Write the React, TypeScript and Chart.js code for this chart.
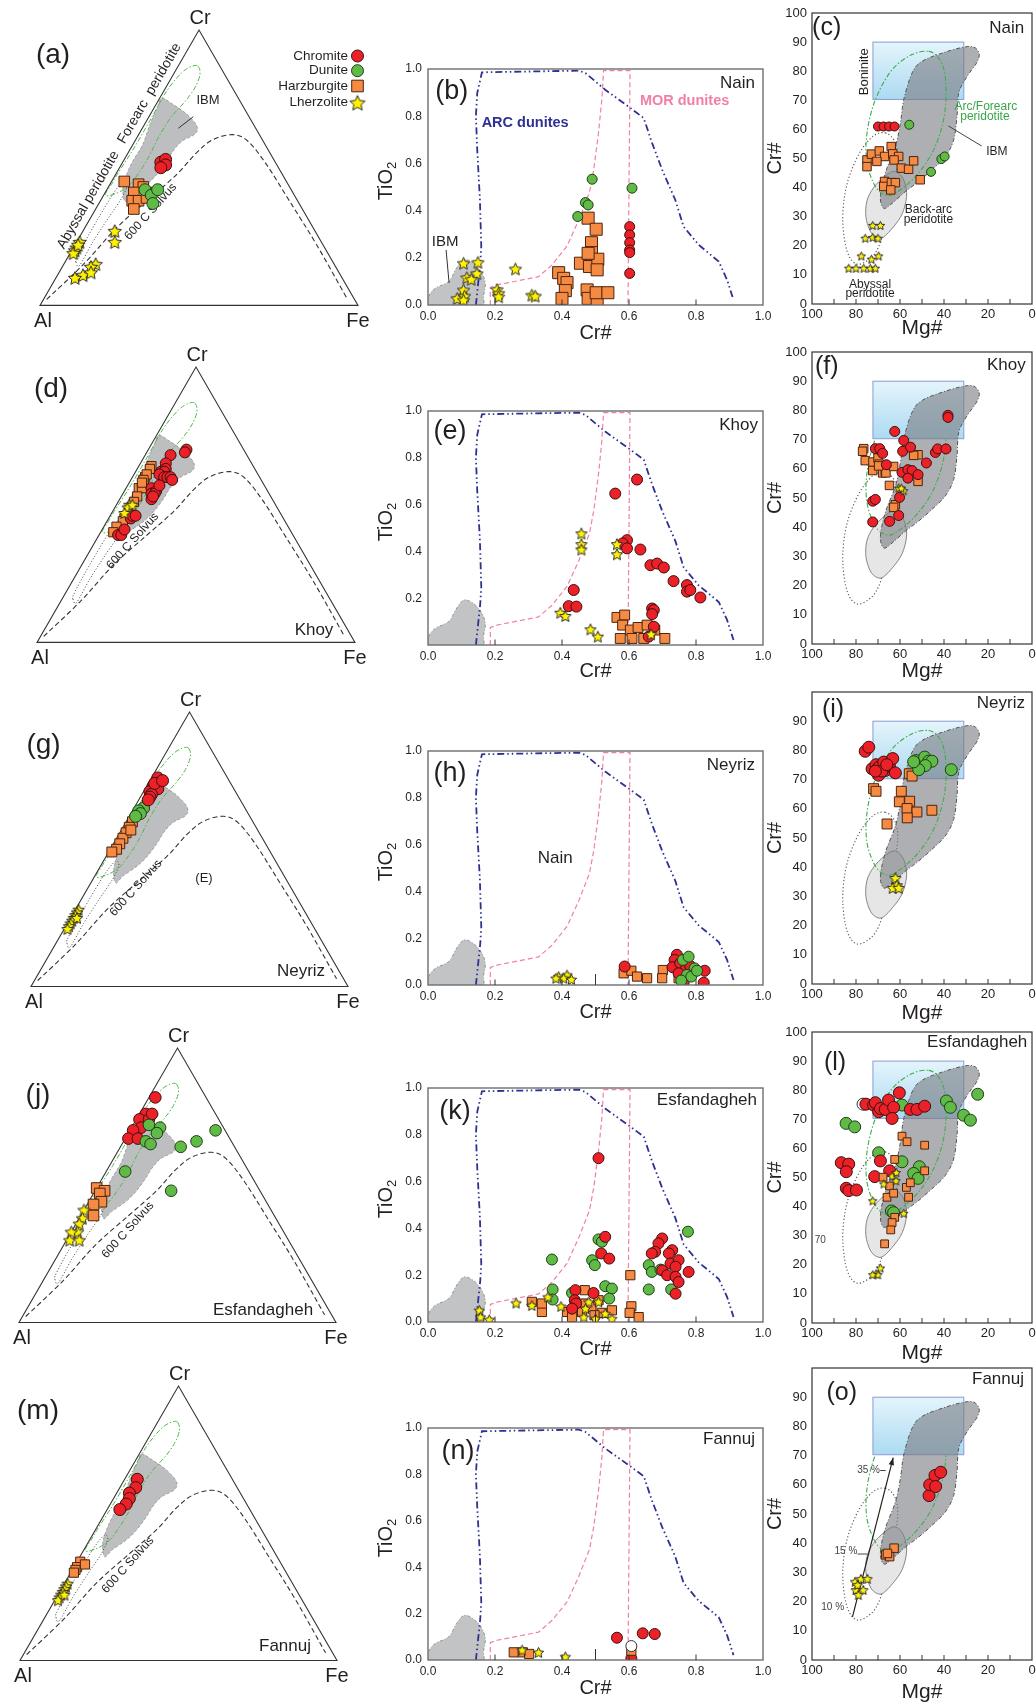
import React, { useEffect, useRef } from 'react';
import { Chart, registerables } from 'chart.js';

Chart.register(...registerables);

const FONT = '"Liberation Sans", Arial, Helvetica, sans-serif';
const INK = '#231f20';
const SQ = Math.sqrt(3) / 2;
type P2 = [number, number];
type T3 = [number, number, number];
type Box = { l: number; t: number; w: number; h: number };

Chart.defaults.font.family = FONT;
Chart.defaults.color = INK;

/* ================= Ternary Cr - Al - Fe3+ data : [Cr, Al, Fe] % ================= */
const nainTernChromite: T3[] = [[52, 36, 12], [53, 34, 13], [51, 35, 14], [50, 37, 13]];
const nainTernDunite: T3[] = [[42, 46, 12], [40, 45, 15], [42, 42, 16], [37, 46, 17]];
const nainTernHarz: T3[] = [[45, 51, 4], [44, 47, 9], [43, 46, 11], [41, 50, 9], [41, 46, 13], [38, 52, 10], [38, 50, 12], [35, 53, 12], [39, 47, 14]];
const nainTernLherz: T3[] = [[27, 63, 10], [23, 65, 12], [23, 76, 1], [21, 78, 1], [20, 79, 1], [19, 80, 1], [22, 77, 1], [15, 75, 10], [14, 77, 9], [11, 81, 8], [10, 84, 6], [12, 78, 10]];

const khoyTernChromite: T3[] = [[68, 24, 8], [65, 27, 8], [62, 30, 8], [63, 28, 9], [62, 29, 9], [61, 31, 8], [60, 30, 10], [56, 36, 8], [54, 37, 9], [55, 35, 10], [54, 36, 10], [52, 38, 10], [53, 37, 10], [57, 33, 10], [60, 29, 11], [60, 28, 12], [59, 28, 13], [70, 18, 12], [69, 19, 12], [45, 48, 7], [46, 47, 7], [46, 46, 8], [39, 55, 6], [39, 54, 7], [41, 52, 7]];
const khoyTernHarz: T3[] = [[64, 32, 4], [63, 33, 4], [60, 36, 4], [59, 37, 4], [56, 40, 4], [61, 35, 4], [59, 37, 4], [56, 39, 5], [53, 42, 5], [51, 44, 5], [45, 50, 5], [44, 51, 5], [58, 38, 4], [42, 54, 4], [40, 56, 4]];
const khoyTernLherz: T3[] = [[50, 46, 4], [49, 47, 4], [50, 45, 5], [47, 49, 4]];

const neyrizTernChromite: T3[] = [[76, 22, 2], [74, 23, 3], [73, 25, 2], [72, 24, 4], [71, 27, 2], [70, 27, 3], [69, 28, 3], [74, 24, 2], [75, 21, 4], [68, 29, 3]];
const neyrizTernDunite: T3[] = [[65, 32, 3], [64, 34, 2], [63, 34, 3], [62, 36, 2]];
const neyrizTernHarz: T3[] = [[60, 38, 2], [58, 40, 2], [56, 42, 2], [54, 44, 2], [52, 46, 2], [50, 48, 2], [49, 50, 1], [57, 40, 3]];
const neyrizTernLherz: T3[] = [[28, 71, 1], [27, 72, 1], [26, 73, 1], [25, 74, 1], [24, 75, 1], [23, 76, 1], [22, 77, 1], [21, 78, 1], [25, 73, 2]];

const esfTernChromite: T3[] = [[82, 16, 2], [76, 22, 2], [74, 25, 1], [74, 22, 4], [71, 26, 3], [70, 29, 1], [67, 32, 1], [67, 29, 4], [76, 20, 4]];
const esfTernDunite: T3[] = [[71, 20, 9], [69, 22, 9], [72, 23, 5], [66, 27, 7], [65, 26, 9], [64, 17, 19], [66, 11, 23], [70, 3, 27], [55, 39, 6], [48, 28, 24]];
const esfTernHarz: T3[] = [[49, 51, 0], [48, 49, 3], [47, 51, 2], [44, 52, 4], [39, 57, 4], [43, 55, 2]];
const esfTernLherz: T3[] = [[41, 59, 0], [38, 61, 1], [36, 63, 1], [33, 65, 2], [33, 67, 0], [30, 69, 1], [30, 66, 4]];

const fannujTernChromite: T3[] = [[66, 30, 4], [63, 32, 5], [61, 35, 4], [59, 36, 5], [57, 38, 5], [55, 41, 4]];
const fannujTernHarz: T3[] = [[36, 63, 1], [34, 65, 1], [33, 66, 1], [32, 67, 1], [35, 62, 3]];
const fannujTernLherz: T3[] = [[28, 71, 1], [27, 72, 1], [26, 73, 1], [25, 74, 1], [24, 75, 1], [23, 76, 1], [22, 77, 1], [24, 74, 2]];

/* ternary reference fields [Cr, Al, Fe] */
const ternIBMField: T3[] = [[75.2, 24.1, 0.7], [73.0, 21.7, 5.3], [69.4, 19.1, 11.5], [65.1, 18.1, 16.8], [62.2, 20.2, 17.6], [59.6, 25.6, 14.8], [56.0, 30.2, 13.8], [52.4, 34.0, 13.7], [47.6, 39.4, 13.0], [44.0, 44.4, 11.6], [40.4, 50.6, 9.0], [37.8, 54.4, 7.8], [42.6, 52.6, 4.8], [47.6, 48.9, 3.5], [52.4, 44.6, 3.0], [58.5, 38.4, 3.1], [65.8, 32.5, 1.7], [71.6, 27.4, 1.0]];
const ternForearc: T3[] = [[86.8, 6.9, 6.3], [83.8, 7.8, 8.4], [79.0, 11.8, 9.2], [74.1, 17.3, 8.6], [68.7, 24.2, 7.1], [62.0, 31.3, 6.7], [54.8, 38.0, 7.2], [48.7, 44.2, 7.1], [43.3, 50.6, 6.1], [40.5, 56.2, 3.3], [40.0, 59.5, 0.5], [44.0, 55.5, 0.5], [47.5, 52.0, 0.5], [57.2, 41.8, 1.0], [68.1, 30.9, 1.0], [77.8, 21.3, 0.9], [84.4, 13.3, 2.3], [86.8, 8.9, 4.3]];
const ternAbyssal: T3[] = [[15.7, 80.8, 3.5], [14.5, 80.3, 5.2], [23.0, 71.9, 5.1], [31.5, 62.9, 5.6], [38.8, 55.0, 6.2], [44.2, 50.2, 5.6], [45.5, 50.7, 3.8], [41.2, 56.0, 2.8], [31.5, 66.0, 2.5], [21.8, 75.6, 2.6], [16.9, 80.2, 2.9]];
const ternSolvus: T3[] = [[2.2, 96.8, 1.0], [14.9, 78.9, 6.2], [28.2, 61.8, 10.0], [39.0, 45.9, 15.1], [47.5, 33.3, 19.2], [55.4, 23.1, 21.5], [60.2, 15.5, 24.3], [62.0, 8.3, 29.7], [59.6, 4.8, 35.6], [51.2, 3.2, 45.6], [37.8, 2.6, 59.6], [22.1, 2.0, 75.9], [2.8, 2.2, 95.0]];

/* ================= TiO2 (wt%) vs Cr# data : [Cr#, TiO2] ================= */
const tiXTicks = [0, 0.2, 0.4, 0.6, 0.8, 1.0];
const nainTiLherz: P2[] = [[0.106, 0.177], [0.149, 0.181], [0.146, 0.134], [0.116, 0.116], [0.129, 0.109], [0.106, 0.064], [0.087, 0.028], [0.109, 0.038], [0.106, 0.021], [0.261, 0.153], [0.206, 0.066], [0.211, 0.05], [0.211, 0.035], [0.31, 0.042], [0.32, 0.038]];
const nainTiDunite: P2[] = [[0.49, 0.533], [0.47, 0.434], [0.478, 0.424], [0.447, 0.375], [0.609, 0.495]];
const nainTiChromite: P2[] = [[0.602, 0.332], [0.602, 0.297], [0.602, 0.264], [0.602, 0.233], [0.602, 0.222], [0.602, 0.134]];
const nainTiHarz: P2[] = [[0.478, 0.368], [0.502, 0.321], [0.488, 0.264], [0.488, 0.222], [0.455, 0.177], [0.482, 0.163], [0.507, 0.194], [0.505, 0.149], [0.39, 0.137], [0.405, 0.113], [0.415, 0.095], [0.41, 0.061], [0.4, 0.028], [0.475, 0.064], [0.478, 0.028], [0.505, 0.018], [0.502, 0.052], [0.537, 0.052], [0.478, 0.219]];

const khoyTiChromite: P2[] = [[0.624, 0.707], [0.559, 0.647], [0.594, 0.448], [0.581, 0.434], [0.594, 0.413], [0.634, 0.408], [0.664, 0.341], [0.684, 0.348], [0.704, 0.331], [0.733, 0.273], [0.773, 0.256], [0.773, 0.228], [0.783, 0.235], [0.813, 0.203], [0.435, 0.235], [0.42, 0.166], [0.443, 0.164], [0.669, 0.156], [0.674, 0.149], [0.669, 0.132], [0.674, 0.078], [0.659, 0.036]];
const khoyTiLherz: P2[] = [[0.458, 0.477], [0.458, 0.431], [0.458, 0.408], [0.564, 0.431], [0.564, 0.388], [0.395, 0.138], [0.41, 0.124], [0.485, 0.067], [0.507, 0.036], [0.666, 0.046]];
const khoyTiHarz: P2[] = [[0.564, 0.118], [0.587, 0.128], [0.581, 0.085], [0.604, 0.064], [0.574, 0.028], [0.627, 0.075], [0.654, 0.085], [0.644, 0.028], [0.677, 0.064], [0.707, 0.028], [0.609, 0.028]];

const neyrizTiLherz: P2[] = [[0.39, 0.036], [0.415, 0.043], [0.405, 0.029], [0.428, 0.024], [0.382, 0.029]];
const neyrizTiHarz: P2[] = [[0.584, 0.05], [0.607, 0.061], [0.624, 0.036], [0.654, 0.029], [0.701, 0.064], [0.699, 0.029], [0.748, 0.029]];
const neyrizTiChromite: P2[] = [[0.587, 0.079], [0.743, 0.129], [0.736, 0.107], [0.73, 0.076], [0.753, 0.093], [0.768, 0.064], [0.783, 0.081], [0.826, 0.061], [0.763, 0.01], [0.823, 0.01], [0.748, 0.05]];
const neyrizTiDunite: P2[] = [[0.761, 0.107], [0.778, 0.121], [0.796, 0.071], [0.773, 0.043], [0.786, 0.036], [0.803, 0.061], [0.756, 0.019]];

const esfTiChromite: P2[] = [[0.509, 0.7], [0.529, 0.364], [0.517, 0.293], [0.541, 0.271], [0.44, 0.136], [0.438, 0.093], [0.494, 0.124], [0.442, 0.079], [0.43, 0.057], [0.699, 0.357], [0.688, 0.336], [0.678, 0.3], [0.668, 0.293], [0.729, 0.307], [0.719, 0.293], [0.699, 0.221], [0.724, 0.25], [0.748, 0.264], [0.739, 0.236], [0.778, 0.214], [0.714, 0.2], [0.739, 0.193], [0.748, 0.171], [0.739, 0.121]];
const esfTiDunite: P2[] = [[0.37, 0.267], [0.372, 0.139], [0.372, 0.096], [0.43, 0.124], [0.49, 0.264], [0.498, 0.243], [0.509, 0.353], [0.519, 0.343], [0.529, 0.153], [0.549, 0.143], [0.541, 0.1], [0.659, 0.243], [0.668, 0.214], [0.659, 0.139], [0.726, 0.139], [0.776, 0.386], [0.694, 0.224]];
const esfTiHarz: P2[] = [[0.604, 0.2], [0.31, 0.086], [0.34, 0.043], [0.34, 0.079], [0.415, 0.043], [0.43, 0.021], [0.468, 0.136], [0.47, 0.079], [0.488, 0.064], [0.509, 0.093], [0.519, 0.039], [0.549, 0.05], [0.607, 0.067], [0.602, 0.039], [0.629, 0.021], [0.46, 0.043], [0.497, 0.029]];
const esfTiLherz: P2[] = [[0.153, 0.05], [0.157, 0.021], [0.183, 0.01], [0.263, 0.081], [0.31, 0.071], [0.358, 0.107], [0.397, 0.067], [0.465, 0.021], [0.48, 0.086], [0.509, 0.086], [0.529, 0.036], [0.549, 0.014], [0.47, 0.057], [0.5, 0.014]];

const fannujTiHarz: P2[] = [[0.256, 0.033], [0.283, 0.033], [0.302, 0.026], [0.607, 0.04]];
const fannujTiLherz: P2[] = [[0.281, 0.043], [0.33, 0.033], [0.41, 0.014]];
const fannujTiChromite: P2[] = [[0.564, 0.096], [0.641, 0.115], [0.677, 0.112], [0.607, 0.007]];
const fannujTiOpen: P2[] = [[0.607, 0.06]];

/* TiO2 reference fields */
const arcDunites: P2[] = [[0.143, 0], [0.156, 0.177], [0.159, 0.248], [0.155, 0.446], [0.147, 0.658], [0.143, 0.8], [0.147, 0.898], [0.161, 0.986], [0.45, 0.993], [0.47, 0.983], [0.529, 0.912], [0.604, 0.835], [0.644, 0.792], [0.669, 0.686], [0.699, 0.573], [0.738, 0.446], [0.763, 0.332], [0.808, 0.255], [0.868, 0.184], [0.893, 0.106], [0.912, 0.021]];
const morDunites: P2[] = [[0.186, 0], [0.186, 0.075], [0.206, 0.085], [0.33, 0.12], [0.37, 0.17], [0.415, 0.25], [0.45, 0.36], [0.482, 0.477], [0.495, 0.576], [0.509, 0.73], [0.519, 0.872], [0.524, 0.993], [0.603, 0.993], [0.597, 0]];
const ibmFieldTi: P2[] = [[0, -0.02], [0.002, 0.036], [0.022, 0.071], [0.062, 0.1], [0.082, 0.149], [0.1, 0.185], [0.116, 0.192], [0.141, 0.171], [0.161, 0.135], [0.171, 0.092], [0.166, 0.043], [0.151, -0.02]];

/* ================= Cr# vs Mg# data : [Mg#, Cr#] ================= */
const nainMgChromite: P2[] = [[70, 61], [67.5, 61], [65, 61], [62.5, 61]];
const nainMgDunite: P2[] = [[55.8, 61.6], [45.9, 45.4], [41.2, 49.8], [39.7, 50.7]];
const nainMgHarz: P2[] = [[75, 49.5], [75, 47.2], [73, 51.5], [69.4, 52.6], [67, 50.7], [70.5, 49], [64, 54.1], [63.3, 51.6], [60.6, 50.7], [62.7, 49.5], [59.4, 46.7], [56.1, 46.3], [53.8, 49.2], [50.8, 42.7], [67, 42.1], [67.4, 40.4], [63.9, 41.7], [62.1, 41.7], [64.2, 39.2]];
const nainMgLherz: P2[] = [[72.4, 27], [68.9, 27], [75.8, 22.6], [72.4, 22.9], [70, 22.6], [77.6, 16.5], [69.7, 16.5], [73, 15.4], [83.3, 12.3], [80, 12.3], [76.5, 12.3], [73.5, 12.3], [71.2, 12.3]];

const khoyMgChromite: P2[] = [[62.4, 72.8], [58.3, 69.7], [58.8, 66], [55.2, 67.4], [71.2, 66.9], [69.2, 66.9], [67.9, 65.3], [66.2, 61.4], [59.1, 58.8], [56.4, 59.7], [54.5, 59.4], [56.4, 56.8], [51.8, 58], [48, 62], [43.9, 65.6], [42.9, 66.8], [39.1, 66.8], [38.2, 78.3], [38.2, 77.6], [72.4, 48.9], [71.2, 49.5], [60.2, 50.2], [72.4, 41.8], [64.7, 42], [60.6, 44]];
const khoyMgHarz: P2[] = [[76.5, 66.9], [77, 66], [75.8, 62.8], [72.3, 62.3], [72.4, 59.4], [70, 63.7], [69.4, 61.6], [67.9, 58.6], [66.7, 59.1], [66.4, 58.6], [62.9, 60.8], [51.8, 64.8], [53.8, 64.6], [51.8, 55.7], [64.8, 54.3], [62.1, 47.7], [62.9, 46.8], [69.7, 61]];
const khoyMgLherz: P2[] = [[60.6, 53.4], [58.3, 52.5], [59.4, 53.4]];

const neyrizMgChromite: P2[] = [[75.8, 79.7], [74.2, 81.1], [72.7, 73.7], [70.9, 75.1], [69.7, 71.5], [69.7, 74.2], [67.4, 76], [66.7, 73.1], [64.8, 74.6], [63.3, 77.2], [62.1, 72.3], [68.2, 72.9], [71.2, 72.9], [66, 75.1]];
const neyrizMgDunite: P2[] = [[52.7, 76.5], [50.8, 75.1], [48.8, 77.7], [47, 76.3], [45.5, 76.3], [48.5, 74.8], [51.5, 73.4], [53.8, 76.1], [36.7, 73.4]];
const neyrizMgHarz: P2[] = [[55.8, 72], [54.5, 71.2], [72, 66.9], [70.9, 66], [59.4, 66], [60.3, 62.4], [55.6, 62.6], [56.8, 60.1], [52.3, 58.9], [45.5, 59.5], [56.7, 56.9], [65.9, 54.8]];
const neyrizMgLherz: P2[] = [[62.1, 36.3], [61.4, 33.8], [63.3, 32.9], [60.6, 32.9]];

const esfMgChromite: P2[] = [[75.5, 75.2], [72, 74.9], [71.2, 75.7], [69.7, 72.6], [68.9, 73.7], [66.7, 73.4], [65.2, 76.6], [62.9, 74.1], [63.6, 70.3], [60.3, 79.1], [55.3, 73.4], [52.3, 73.4], [48.8, 74.5], [86.7, 55.1], [83.3, 54.6], [84.4, 52], [84.4, 46.3], [83.3, 45.5], [79.8, 45.7], [71.5, 50.3], [68.9, 55.7], [64.7, 52.3]];
const esfMgDunite: P2[] = [[84.5, 68.6], [80.6, 67.4], [69.7, 58.5], [59.1, 55.4], [51.2, 53.7], [53.8, 51.4], [51.8, 49.7], [59.1, 74.9], [38.9, 76.3], [37.1, 74.1], [31.1, 71.4], [28, 69.7], [24.7, 78.6], [63.9, 38.5], [62.9, 37.9]];
const esfMgHarz: P2[] = [[59.1, 64.2], [56.8, 62.3], [48.8, 61.1], [62.4, 56.2], [48.8, 52.3], [67.7, 50.1], [64.8, 47.1], [65.9, 43.2], [62.9, 44.6], [57.1, 46.6], [55.3, 48.2], [56.1, 43.2], [62.4, 36.3], [63.6, 34.5], [64.2, 32], [67, 27.2]];
const esfMgLherz: P2[] = [[72.4, 42], [67.4, 47.8], [63.6, 50.5], [61.7, 51.7], [61.8, 48.9], [58.3, 37.7], [68.9, 18.9], [70.9, 16.9], [70, 16.6], [72.4, 16.6]];
const esfMgOpen: P2[] = [[76.8, 75.2]];

const fannujMgChromite: P2[] = [[46.8, 56.3], [46.5, 60], [44.1, 63.2], [41.5, 64.3], [43.8, 59.4]];
const fannujMgHarz: P2[] = [[66.5, 36], [62.7, 38.3], [64.7, 35.4], [65.7, 36.5]];
const fannujMgLherz: P2[] = [[80.4, 26.8], [77.8, 27.8], [74.8, 27.8], [80.1, 24], [76.7, 24], [78.9, 22.3], [79.3, 25.7]];

/* Cr#-Mg# reference fields */
const boniniteBox = { mgHigh: 72.3, mgLow: 31, crLow: 70.3, crHigh: 90 };
const ibmFieldMg: P2[] = [[68.9, 36.9], [66.7, 45.0], [62.1, 54.1], [59.8, 62.2], [58.3, 70.2], [54.5, 79.4], [50.0, 83.4], [40.9, 86.2], [31.5, 88.2], [26.5, 88.3], [24.0, 86.0], [25.2, 82.8], [29.5, 78.2], [33.3, 72.5], [34.1, 64.4], [35.6, 56.4], [39.4, 50.7], [45.5, 46.1], [51.5, 42.1], [57.6, 38.6], [63.6, 34.6], [67.4, 32.9]];
const forearcFieldMg: P2[] = [[47.0, 86.8], [42.4, 84.5], [39.7, 79.4], [39.1, 70.2], [40.9, 61.0], [45.5, 51.8], [53.0, 43.8], [62.1, 38.1], [66.7, 37.5], [71.2, 40.4], [75.0, 48.4], [75.0, 58.7], [71.2, 70.2], [63.6, 80.5], [54.5, 85.7]];
const abyssalFieldMg: P2[] = [[66.7, 58.8], [62.5, 56], [61, 50], [63, 40], [66, 30], [69, 21], [73, 16], [79.5, 13.7], [84, 18], [86, 28], [85, 38], [82, 46], [77.5, 53], [72, 57.8]];
const backArcFieldMg: P2[] = [[60.6, 45], [58, 42], [57, 37], [59, 31], [63, 26.5], [67.5, 23], [70.5, 22.8], [73.5, 25], [75.5, 30], [75, 35.5], [72, 40], [67.5, 43.5], [63.5, 45.5]];
const meltArrow = { from: [81.6, 14.8] as P2, to: [63.1, 69.3] as P2 };

/* ================= styling ================= */
const STYLE: Record<string, { fill: string; line: string }> = {
  chromite: { fill: '#ec2027', line: '#3a1010' },
  dunite: { fill: '#5fba46', line: '#1f3d17' },
  harz: { fill: '#f58a42', line: '#4a2410' },
  lherz: { fill: '#fff200', line: '#2a2a2a' },
  open: { fill: '#ffffff', line: '#333333' },
};
type Kind = 'chromite' | 'dunite' | 'harz' | 'lherz' | 'open';
type Sizes = { c: number; s: number; t: number };

const starCache: Record<string, HTMLCanvasElement> = {};
function starImage(size: number): HTMLCanvasElement {
  const key = String(size);
  if (starCache[key]) return starCache[key];
  const c = document.createElement('canvas');
  const dim = Math.ceil(size + 4);
  c.width = dim;
  c.height = dim;
  const g = c.getContext('2d') as CanvasRenderingContext2D;
  const cx = dim / 2, cy = dim / 2 + size * 0.05;
  const R = size / 2, r = R * 0.47;
  g.beginPath();
  for (let i = 0; i < 10; i++) {
    const a = -Math.PI / 2 + (i * Math.PI) / 5;
    const rad = i % 2 === 0 ? R : r;
    const x = cx + rad * Math.cos(a), y = cy + rad * Math.sin(a);
    if (i === 0) g.moveTo(x, y); else g.lineTo(x, y);
  }
  g.closePath();
  g.fillStyle = '#fff200';
  g.fill();
  g.lineWidth = 1;
  g.strokeStyle = '#2a2a2a';
  g.stroke();
  starCache[key] = c;
  return c;
}

function makeDatasets(series: { kind: Kind; pts: P2[] }[], sz: Sizes) {
  return series.map((s) => {
    const r = s.kind === 'harz' ? sz.s : sz.c;
    return {
      label: s.kind,
      data: s.pts.map(([x, y]) => ({ x, y })),
      pointStyle: s.kind === 'harz' ? 'rect' : s.kind === 'lherz' ? starImage(sz.t) : 'circle',
      pointRadius: r,
      pointHoverRadius: r,
      backgroundColor: STYLE[s.kind].fill,
      borderColor: STYLE[s.kind].line,
      borderWidth: 1,
      showLine: false,
    };
  });
}

/* ================= drawing helpers ================= */
function smoothPath(ctx: CanvasRenderingContext2D, pts: P2[], closed: boolean) {
  const n = pts.length;
  const g = (i: number) => (closed ? pts[((i % n) + n) % n] : pts[Math.max(0, Math.min(n - 1, i))]);
  ctx.beginPath();
  ctx.moveTo(pts[0][0], pts[0][1]);
  const segs = closed ? n : n - 1;
  for (let i = 0; i < segs; i++) {
    const p0 = g(i - 1), p1 = g(i), p2 = g(i + 1), p3 = g(i + 2);
    ctx.bezierCurveTo(
      p1[0] + (p2[0] - p0[0]) / 6, p1[1] + (p2[1] - p0[1]) / 6,
      p2[0] - (p3[0] - p1[0]) / 6, p2[1] - (p3[1] - p1[1]) / 6,
      p2[0], p2[1]
    );
  }
  if (closed) ctx.closePath();
}
function polyPath(ctx: CanvasRenderingContext2D, pts: P2[]) {
  ctx.beginPath();
  pts.forEach((p, i) => (i ? ctx.lineTo(p[0], p[1]) : ctx.moveTo(p[0], p[1])));
}
function txt(ctx: CanvasRenderingContext2D, s: string, x: number, y: number, size: number, opts: any = {}) {
  ctx.save();
  ctx.translate(x, y);
  if (opts.rot) ctx.rotate((opts.rot * Math.PI) / 180);
  ctx.font = `${opts.bold ? 'bold ' : ''}${size}px ${FONT}`;
  ctx.fillStyle = opts.color || INK;
  ctx.textAlign = opts.align || 'center';
  ctx.textBaseline = 'middle';
  ctx.fillText(s, 0, 0);
  ctx.restore();
}
function line(ctx: CanvasRenderingContext2D, a: P2, b: P2, color = '#333', w = 1) {
  ctx.save();
  ctx.setLineDash([]);
  ctx.strokeStyle = color;
  ctx.lineWidth = w;
  ctx.beginPath();
  ctx.moveTo(a[0], a[1]);
  ctx.lineTo(b[0], b[1]);
  ctx.stroke();
  ctx.restore();
}
function drawMarker(ctx: CanvasRenderingContext2D, kind: Kind, x: number, y: number, sz: Sizes) {
  ctx.save();
  ctx.setLineDash([]);
  if (kind === 'lherz') {
    const img = starImage(sz.t);
    ctx.drawImage(img, x - img.width / 2, y - img.height / 2);
  } else {
    ctx.fillStyle = STYLE[kind].fill;
    ctx.strokeStyle = STYLE[kind].line;
    ctx.lineWidth = 1;
    ctx.beginPath();
    if (kind === 'harz') {
      const h = sz.s * Math.SQRT1_2;
      ctx.rect(x - h, y - h, 2 * h, 2 * h);
    } else ctx.arc(x, y, sz.c, 0, Math.PI * 2);
    ctx.fill();
    ctx.stroke();
  }
  ctx.restore();
}

const tern = (t: T3): P2 => {
  const s = t[0] + t[1] + t[2];
  const cr = t[0] / s, fe = t[2] / s;
  return [fe + cr / 2, cr * SQ];
};

/* ================= ternary panels ================= */
interface TernSpec {
  cv: Box;
  tri: { l: number; t: number; w: number };
  series: { kind: Kind; pts: T3[] }[];
  sz: Sizes;
  label: string;
  labelAt: P2;
  site?: string;
  siteAt?: P2;
  solvusAt: P2;
  extra?: string;
}

function ternPlugin(spec: TernSpec) {
  const A = (p: P2): P2 => [p[0] - spec.cv.l, p[1] - spec.cv.t];
  return {
    id: 'ternDeco',
    beforeDatasetsDraw(chart: any) {
      const ctx = chart.ctx as CanvasRenderingContext2D;
      const xs = chart.scales.x, ys = chart.scales.y;
      const P = (t: T3): P2 => {
        const [x, y] = tern(t);
        return [xs.getPixelForValue(x), ys.getPixelForValue(y)];
      };
      ctx.save();
      smoothPath(ctx, ternIBMField.map(P), true);
      ctx.fillStyle = '#bdbec0';
      ctx.fill();
      ctx.setLineDash([3, 2]);
      ctx.strokeStyle = '#909193';
      ctx.lineWidth = 0.8;
      ctx.stroke();

      smoothPath(ctx, ternForearc.map(P), true);
      ctx.setLineDash([5, 2, 1.5, 2]);
      ctx.strokeStyle = '#4fb848';
      ctx.lineWidth = 1;
      ctx.stroke();

      smoothPath(ctx, ternAbyssal.map(P), true);
      ctx.setLineDash([1, 2]);
      ctx.strokeStyle = '#444';
      ctx.lineWidth = 1;
      ctx.stroke();

      smoothPath(ctx, ternSolvus.map(P), false);
      ctx.setLineDash([5, 3]);
      ctx.strokeStyle = '#333';
      ctx.lineWidth = 1.1;
      ctx.stroke();

      ctx.setLineDash([]);
      const al = P([0, 100, 0]), fe = P([0, 0, 100]), cr = P([100, 0, 0]);
      ctx.beginPath();
      ctx.moveTo(al[0], al[1]);
      ctx.lineTo(fe[0], fe[1]);
      ctx.lineTo(cr[0], cr[1]);
      ctx.closePath();
      ctx.strokeStyle = '#333';
      ctx.lineWidth = 1.1;
      ctx.stroke();

      txt(ctx, 'Cr', cr[0] + 1, cr[1] - 12, 20);
      txt(ctx, 'Al', al[0] + 3, al[1] + 16, 20);
      txt(ctx, 'Fe', fe[0], fe[1] + 16, 20);
      const sv = A(spec.solvusAt);
      txt(ctx, '600 C Solvus', sv[0], sv[1], 12, { rot: -48 });
      if (spec.extra === 'a') {
        const ab = A([88.3, 200]);
        txt(ctx, 'Abyssal peridotite', ab[0], ab[1], 14, { rot: -60 });
        const fa = A([149.5, 93.5]);
        txt(ctx, 'Forearc  peridotite', fa[0], fa[1], 14, { rot: -60 });
        const ib = A([208, 100]);
        txt(ctx, 'IBM', ib[0], ib[1], 13);
        line(ctx, A([193.3, 116.7]), A([178.3, 128.3]), '#333', 1);
      }
      if (spec.extra === 'g') {
        const e = A([204, 878]);
        txt(ctx, '(E)', e[0], e[1], 13);
      }
      ctx.restore();
    },
    afterDatasetsDraw(chart: any) {
      const ctx = chart.ctx as CanvasRenderingContext2D;
      const lp = A(spec.labelAt);
      txt(ctx, spec.label, lp[0], lp[1], 28);
      if (spec.site && spec.siteAt) {
        const sp = A(spec.siteAt);
        txt(ctx, spec.site, sp[0], sp[1], 17);
      }
      if (spec.extra === 'a') {
        const items: [string, Kind, number][] = [['Chromite', 'chromite', 56], ['Dunite', 'dunite', 70.7], ['Harzburgite', 'harz', 86], ['Lherzolite', 'lherz', 102.7]];
        const lsz: Sizes = { c: 6, s: 8.2, t: 16 };
        items.forEach(([name, kind, y]) => {
          const tp = A([348, y]);
          txt(ctx, name, tp[0], tp[1], 13.5, { align: 'right' });
          const mp = A([357.5, y]);
          drawMarker(ctx, kind, mp[0], mp[1], lsz);
        });
      }
    },
  };
}

function ternConfig(spec: TernSpec): any {
  const h = spec.tri.w * SQ;
  return {
    type: 'scatter',
    data: { datasets: makeDatasets(spec.series.map((s) => ({ kind: s.kind, pts: s.pts.map(tern) })), spec.sz) },
    options: {
      animation: false,
      responsive: false,
      events: [],
      layout: {
        autoPadding: false,
        padding: {
          left: spec.tri.l - spec.cv.l,
          top: spec.tri.t - spec.cv.t,
          right: spec.cv.l + spec.cv.w - spec.tri.l - spec.tri.w,
          bottom: spec.cv.t + spec.cv.h - spec.tri.t - h,
        },
      },
      scales: {
        x: { type: 'linear', display: false, min: 0, max: 1 },
        y: { type: 'linear', display: false, min: 0, max: SQ },
      },
      plugins: { legend: { display: false }, tooltip: { enabled: false } },
    },
    plugins: [ternPlugin(spec)],
  };
}

/* ================= XY panels ================= */
interface XYSpec {
  cv: Box;
  area: { l: number; t: number; r: number; b: number };
  series: { kind: Kind; pts: P2[] }[];
  sz: Sizes;
  label: string;
  labelAt: P2;
  site: string;
  siteAt: P2;
  titleY: number;
  hideYZero?: boolean;
  hideY100?: boolean;
  midTick?: boolean;
  greenClip?: boolean;
  texts?: { s: string; at: P2; size: number; color?: string; rot?: number; bold?: boolean; align?: string }[];
  lines?: { from: P2; to: P2 }[];
  arrow?: boolean;
}

function tiPlugin(spec: XYSpec) {
  const A = (p: P2): P2 => [p[0] - spec.cv.l, p[1] - spec.cv.t];
  return {
    id: 'tiDeco',
    beforeDatasetsDraw(chart: any) {
      const ctx = chart.ctx as CanvasRenderingContext2D;
      const a = chart.chartArea;
      const M = (p: P2): P2 => [chart.scales.x.getPixelForValue(p[0]), chart.scales.y.getPixelForValue(p[1])];
      ctx.save();
      ctx.beginPath();
      ctx.rect(a.left, a.top, a.right - a.left, a.bottom - a.top);
      ctx.clip();
      smoothPath(ctx, ibmFieldTi.map(M), true);
      ctx.fillStyle = '#c2c3c5';
      ctx.fill();
      ctx.setLineDash([3, 2, 1, 2]);
      ctx.strokeStyle = '#8a8b8d';
      ctx.lineWidth = 0.9;
      ctx.stroke();

      polyPath(ctx, arcDunites.map(M));
      ctx.setLineDash([7, 3, 1.5, 3, 1.5, 3]);
      ctx.strokeStyle = '#2e3192';
      ctx.lineWidth = 1.8;
      ctx.stroke();

      polyPath(ctx, morDunites.map(M));
      ctx.setLineDash([5, 3]);
      ctx.strokeStyle = '#f27fa7';
      ctx.lineWidth = 1.2;
      ctx.stroke();
      ctx.restore();

      (spec.lines || []).forEach((l) => line(ctx, M(l.from), M(l.to), '#333', 1));
      (spec.texts || []).forEach((t) => {
        const p = M(t.at);
        txt(ctx, t.s, p[0], p[1], t.size, t);
      });
    },
    afterDatasetsDraw(chart: any) {
      const ctx = chart.ctx as CanvasRenderingContext2D;
      const a = chart.chartArea;
      const xs = chart.scales.x;
      ctx.save();
      ctx.setLineDash([]);
      ctx.strokeStyle = '#6d6e71';
      ctx.lineWidth = 1.4;
      ctx.strokeRect(a.left, a.top, a.right - a.left, a.bottom - a.top);
      [0.2, 0.4, 0.6, 0.8].forEach((v) => {
        const x = xs.getPixelForValue(v);
        line(ctx, [x, a.bottom], [x, a.bottom - 5.5], '#333', 1);
      });
      if (spec.midTick) {
        const x = xs.getPixelForValue(0.5);
        line(ctx, [x, a.bottom], [x, a.bottom - 11], '#333', 1);
      }
      ctx.restore();
      const cx = (a.left + a.right) / 2;
      txt(ctx, 'Cr#', cx, spec.titleY - spec.cv.t, 20);
      ctx.save();
      ctx.translate(386 - spec.cv.l, (a.top + a.bottom) / 2 - 6);
      ctx.rotate(-Math.PI / 2);
      ctx.fillStyle = INK;
      ctx.textBaseline = 'middle';
      ctx.textAlign = 'left';
      ctx.font = `20px ${FONT}`;
      const w1 = ctx.measureText('TiO').width;
      ctx.font = `13px ${FONT}`;
      const w2 = ctx.measureText('2').width;
      ctx.font = `20px ${FONT}`;
      ctx.fillText('TiO', -(w1 + w2) / 2, 0);
      ctx.font = `13px ${FONT}`;
      ctx.fillText('2', -(w1 + w2) / 2 + w1, 6);
      ctx.restore();
      const lp = A(spec.labelAt);
      txt(ctx, spec.label, lp[0], lp[1], 27);
      const sp = A(spec.siteAt);
      txt(ctx, spec.site, sp[0], sp[1], 17, { align: 'right' });
    },
  };
}

function mgPlugin(spec: XYSpec) {
  const A = (p: P2): P2 => [p[0] - spec.cv.l, p[1] - spec.cv.t];
  return {
    id: 'mgDeco',
    beforeDatasetsDraw(chart: any) {
      const ctx = chart.ctx as CanvasRenderingContext2D;
      const a = chart.chartArea;
      const X = (v: number) => chart.scales.x.getPixelForValue(v);
      const Y = (v: number) => chart.scales.y.getPixelForValue(v);
      const M = (p: P2): P2 => [X(p[0]), Y(p[1])];
      ctx.save();
      ctx.beginPath();
      ctx.rect(a.left, a.top, a.right - a.left, a.bottom - a.top);
      ctx.clip();

      smoothPath(ctx, abyssalFieldMg.map(M), true);
      ctx.setLineDash([1.2, 2.2]);
      ctx.strokeStyle = '#555';
      ctx.lineWidth = 1.1;
      ctx.stroke();

      smoothPath(ctx, backArcFieldMg.map(M), true);
      ctx.fillStyle = '#e6e6e7';
      ctx.fill();
      ctx.setLineDash([]);
      ctx.strokeStyle = '#7a7a7a';
      ctx.lineWidth = 0.9;
      ctx.stroke();

      const bx0 = X(boniniteBox.mgHigh), bx1 = X(boniniteBox.mgLow);
      const by0 = Y(boniniteBox.crHigh), by1 = Y(boniniteBox.crLow);
      const grad = ctx.createLinearGradient(0, by0, 0, by1);
      grad.addColorStop(0, '#e2f4fc');
      grad.addColorStop(1, '#a3d7f1');
      ctx.globalAlpha = 0.9;
      ctx.fillStyle = grad;
      ctx.fillRect(bx0, by0, bx1 - bx0, by1 - by0);
      ctx.globalAlpha = 1;
      ctx.setLineDash([]);
      ctx.strokeStyle = '#8b9bd3';
      ctx.lineWidth = 1;
      ctx.strokeRect(bx0, by0, bx1 - bx0, by1 - by0);

      smoothPath(ctx, ibmFieldMg.map(M), true);
      ctx.fillStyle = 'rgba(120,122,126,0.6)';
      ctx.fill();
      ctx.setLineDash([4, 2, 1, 2]);
      ctx.strokeStyle = '#555';
      ctx.lineWidth = 1;
      ctx.stroke();

      ctx.save();
      if (spec.greenClip) {
        ctx.beginPath();
        ctx.rect(a.left, Y(70), a.right - a.left, a.bottom - Y(70));
        ctx.clip();
      }
      smoothPath(ctx, forearcFieldMg.map(M), true);
      ctx.setLineDash([5, 2, 1.5, 2]);
      ctx.strokeStyle = '#3fae49';
      ctx.lineWidth = 1.1;
      ctx.stroke();
      ctx.restore();
      ctx.restore();

      (spec.lines || []).forEach((l) => line(ctx, M(l.from), M(l.to), '#444', 1));
      if (spec.arrow) {
        const p0 = M(meltArrow.from), p1 = M(meltArrow.to);
        line(ctx, p0, p1, '#222', 1.2);
        const ang = Math.atan2(p1[1] - p0[1], p1[0] - p0[0]);
        ctx.save();
        ctx.fillStyle = '#222';
        ctx.beginPath();
        ctx.moveTo(p1[0], p1[1]);
        ctx.lineTo(p1[0] - 8 * Math.cos(ang - 0.35), p1[1] - 8 * Math.sin(ang - 0.35));
        ctx.lineTo(p1[0] - 8 * Math.cos(ang + 0.35), p1[1] - 8 * Math.sin(ang + 0.35));
        ctx.closePath();
        ctx.fill();
        ctx.restore();
      }
      (spec.texts || []).forEach((t) => {
        const p = M(t.at);
        txt(ctx, t.s, p[0], p[1], t.size, t);
      });
    },
    afterDatasetsDraw(chart: any) {
      const ctx = chart.ctx as CanvasRenderingContext2D;
      const a = chart.chartArea;
      const xs = chart.scales.x;
      ctx.save();
      ctx.setLineDash([]);
      ctx.strokeStyle = '#333';
      ctx.lineWidth = 1.2;
      ctx.strokeRect(a.left, a.top, a.right - a.left, a.bottom - a.top);
      for (let v = 10; v <= 90; v += 10) {
        const x = xs.getPixelForValue(v);
        line(ctx, [x, a.bottom], [x, a.bottom - 5], '#333', 1);
      }
      ctx.restore();
      txt(ctx, 'Mg#', (a.left + a.right) / 2, spec.titleY - spec.cv.t, 21);
      txt(ctx, 'Cr#', 775 - spec.cv.l, (a.top + a.bottom) / 2, 20, { rot: -90 });
      const lp = A(spec.labelAt);
      txt(ctx, spec.label, lp[0], lp[1], 25);
      const sp = A(spec.siteAt);
      txt(ctx, spec.site, sp[0], sp[1], 17, { align: 'right' });
    },
  };
}

function xyConfig(kind: 'ti' | 'mg', spec: XYSpec): any {
  const YW = kind === 'ti' ? 56 : 50;
  const XH = kind === 'ti' ? 40 : 38;
  const fs = kind === 'ti' ? 12 : 13;
  const { cv, area } = spec;
  const base = { grid: { display: false, drawTicks: false }, border: { display: false } };
  const x: any =
    kind === 'ti'
      ? { type: 'linear', min: tiXTicks[0], max: tiXTicks[tiXTicks.length - 1], ticks: { stepSize: 0.2, callback: (v: any) => Number(v).toFixed(1), padding: 4 } }
      : { type: 'linear', min: 0, max: 100, reverse: true, ticks: { stepSize: 20, padding: 3 } };
  const y: any =
    kind === 'ti'
      ? { type: 'linear', min: 0, max: 1, ticks: { stepSize: 0.2, callback: (v: any) => (spec.hideYZero && Number(v) === 0 ? '' : Number(v).toFixed(1)), padding: 6 } }
      : { type: 'linear', min: 0, max: 100, ticks: { stepSize: 10, callback: (v: any) => (spec.hideY100 && Number(v) === 100 ? '' : String(v)), padding: 5 } };
  [x, y].forEach((s) => {
    Object.assign(s, base);
    s.ticks = { ...s.ticks, font: { size: fs, family: FONT }, color: INK, maxRotation: 0, minRotation: 0, autoSkip: false };
  });
  x.afterFit = (s: any) => {
    s.height = XH;
    s.paddingLeft = 0;
    s.paddingRight = 0;
  };
  y.afterFit = (s: any) => {
    s.width = YW;
    s.paddingTop = 0;
    s.paddingBottom = 0;
  };
  return {
    type: 'scatter',
    data: { datasets: makeDatasets(spec.series, spec.sz) },
    options: {
      animation: false,
      responsive: false,
      events: [],
      layout: {
        autoPadding: false,
        padding: { left: area.l - cv.l - YW, top: area.t - cv.t, right: cv.l + cv.w - area.r, bottom: cv.t + cv.h - area.b - XH },
      },
      scales: { x, y },
      plugins: { legend: { display: false }, tooltip: { enabled: false } },
    },
    plugins: [kind === 'ti' ? tiPlugin(spec) : mgPlugin(spec)],
  };
}

/* ================= panel specs ================= */
const TERN: TernSpec[] = [
  {
    cv: { l: 0, t: 0, w: 388, h: 345 }, tri: { l: 40, t: 30, w: 318 },
    series: [{ kind: 'lherz', pts: nainTernLherz }, { kind: 'chromite', pts: nainTernChromite }, { kind: 'dunite', pts: nainTernDunite }, { kind: 'harz', pts: nainTernHarz }],
    sz: { c: 6, s: 7.5, t: 14 }, label: '(a)', labelAt: [53, 55], solvusAt: [150.7, 211.7], extra: 'a',
  },
  {
    cv: { l: 0, t: 330, w: 388, h: 350 }, tri: { l: 37, t: 367, w: 318 },
    series: [{ kind: 'lherz', pts: khoyTernLherz }, { kind: 'chromite', pts: khoyTernChromite }, { kind: 'harz', pts: khoyTernHarz }],
    sz: { c: 5.5, s: 6.5, t: 12 }, label: '(d)', labelAt: [51, 389], site: 'Khoy', siteAt: [314, 630], solvusAt: [132.6, 541],
  },
  {
    cv: { l: 0, t: 670, w: 388, h: 345 }, tri: { l: 31, t: 712, w: 317 },
    series: [{ kind: 'lherz', pts: neyrizTernLherz }, { kind: 'chromite', pts: neyrizTernChromite }, { kind: 'dunite', pts: neyrizTernDunite }, { kind: 'harz', pts: neyrizTernHarz }],
    sz: { c: 6, s: 7, t: 12 }, label: '(g)', labelAt: [43.5, 745], site: 'Neyriz', siteAt: [301, 971], solvusAt: [136, 888], extra: 'g',
  },
  {
    cv: { l: 0, t: 1005, w: 388, h: 345 }, tri: { l: 19, t: 1048, w: 317 },
    series: [{ kind: 'lherz', pts: esfTernLherz }, { kind: 'dunite', pts: esfTernDunite }, { kind: 'chromite', pts: esfTernChromite }, { kind: 'harz', pts: esfTernHarz }],
    sz: { c: 5.8, s: 7.5, t: 13 }, label: '(j)', labelAt: [38, 1095], site: 'Esfandagheh', siteAt: [263, 1310.7], solvusAt: [128, 1230],
  },
  {
    cv: { l: 0, t: 1345, w: 388, h: 360 }, tri: { l: 20, t: 1386, w: 317 },
    series: [{ kind: 'lherz', pts: fannujTernLherz }, { kind: 'chromite', pts: fannujTernChromite }, { kind: 'harz', pts: fannujTernHarz }],
    sz: { c: 6, s: 6.5, t: 12 }, label: '(m)', labelAt: [38, 1411], site: 'Fannuj', siteAt: [285, 1646], solvusAt: [128, 1565],
  },
];

const TI: XYSpec[] = [
  {
    cv: { l: 372, t: 0, w: 418, h: 350 }, area: { l: 428, t: 69, r: 763, b: 305 },
    series: [{ kind: 'lherz', pts: nainTiLherz }, { kind: 'chromite', pts: nainTiChromite }, { kind: 'dunite', pts: nainTiDunite }, { kind: 'harz', pts: nainTiHarz }],
    sz: { c: 5, s: 8.5, t: 13 }, label: '(b)', labelAt: [451.7, 91.7], site: 'Nain', siteAt: [755, 83.3], titleY: 333,
    texts: [
      { s: 'ARC dunites', at: [0.29, 0.772], size: 14.5, bold: true, color: '#2e3192' },
      { s: 'MOR dunites', at: [0.766, 0.866], size: 14.5, bold: true, color: '#f27fa7' },
      { s: 'IBM', at: [0.051, 0.268], size: 15 },
    ],
    lines: [{ from: [0.054, 0.233], to: [0.063, 0.093] }],
  },
  {
    cv: { l: 372, t: 341, w: 418, h: 349 }, area: { l: 428, t: 411, r: 763, b: 645 },
    series: [{ kind: 'lherz', pts: khoyTiLherz }, { kind: 'chromite', pts: khoyTiChromite }, { kind: 'harz', pts: khoyTiHarz }],
    sz: { c: 5.5, s: 7, t: 12 }, label: '(e)', labelAt: [450, 431.7], site: 'Khoy', siteAt: [758, 425], titleY: 671, hideYZero: true,
  },
  {
    cv: { l: 372, t: 681, w: 418, h: 349 }, area: { l: 428, t: 751, r: 763, b: 985 },
    series: [{ kind: 'lherz', pts: neyrizTiLherz }, { kind: 'dunite', pts: neyrizTiDunite }, { kind: 'chromite', pts: neyrizTiChromite }, { kind: 'harz', pts: neyrizTiHarz }],
    sz: { c: 5.5, s: 6.5, t: 11 }, label: '(h)', labelAt: [450, 773.3], site: 'Neyriz', siteAt: [755, 765], titleY: 1012, midTick: true,
    texts: [{ s: 'Nain', at: [0.38, 0.543], size: 17 }],
  },
  {
    cv: { l: 372, t: 1018, w: 418, h: 349 }, area: { l: 428, t: 1088, r: 763, b: 1322 },
    series: [{ kind: 'lherz', pts: esfTiLherz }, { kind: 'chromite', pts: esfTiChromite }, { kind: 'dunite', pts: esfTiDunite }, { kind: 'harz', pts: esfTiHarz }],
    sz: { c: 5.5, s: 6.5, t: 11 }, label: '(k)', labelAt: [455, 1111.7], site: 'Esfandagheh', siteAt: [757, 1100], titleY: 1349, midTick: true,
  },
  {
    cv: { l: 372, t: 1358, w: 418, h: 347 }, area: { l: 428, t: 1428, r: 763, b: 1660 },
    series: [{ kind: 'lherz', pts: fannujTiLherz }, { kind: 'open', pts: fannujTiOpen }, { kind: 'harz', pts: fannujTiHarz }, { kind: 'chromite', pts: fannujTiChromite }],
    sz: { c: 5.5, s: 6.5, t: 11 }, label: '(n)', labelAt: [458, 1451.7], site: 'Fannuj', siteAt: [755, 1439.3], titleY: 1688, midTick: true,
  },
];

const MG: XYSpec[] = [
  {
    cv: { l: 762, t: 0, w: 274, h: 350 }, area: { l: 812, t: 13, r: 1032, b: 304 },
    series: [{ kind: 'lherz', pts: nainMgLherz }, { kind: 'chromite', pts: nainMgChromite }, { kind: 'dunite', pts: nainMgDunite }, { kind: 'harz', pts: nainMgHarz }],
    sz: { c: 4.5, s: 6, t: 9 }, label: '(c)', labelAt: [826.7, 28.3], site: 'Nain', siteAt: [1024.3, 28.3], titleY: 328,
    texts: [
      { s: 'Boninite', at: [76.2, 79.8], size: 13, rot: -90 },
      { s: 'Arc/Forearc', at: [21, 67.8], size: 12, color: '#39a54a' },
      { s: 'peridotite', at: [21.4, 64.2], size: 12, color: '#39a54a' },
      { s: 'IBM', at: [16, 52.3], size: 12 },
      { s: 'Back-arc', at: [47.1, 32.5], size: 12 },
      { s: 'peridotite', at: [47.1, 28.9], size: 12 },
      { s: 'Abyssal', at: [73.6, 6.8], size: 12 },
      { s: 'peridotite', at: [73.6, 3.7], size: 12 },
    ],
    lines: [{ from: [38, 61.2], to: [22.9, 54.3] }],
  },
  {
    cv: { l: 762, t: 300, w: 274, h: 390 }, area: { l: 812, t: 352, r: 1032, b: 644 },
    series: [{ kind: 'lherz', pts: khoyMgLherz }, { kind: 'chromite', pts: khoyMgChromite }, { kind: 'harz', pts: khoyMgHarz }],
    sz: { c: 5, s: 6, t: 9 }, label: '(f)', labelAt: [826.7, 366.7], site: 'Khoy', siteAt: [1025.7, 365], titleY: 671, greenClip: true,
  },
  {
    cv: { l: 762, t: 640, w: 274, h: 390 }, area: { l: 812, t: 692, r: 1032, b: 984 },
    series: [{ kind: 'lherz', pts: neyrizMgLherz }, { kind: 'chromite', pts: neyrizMgChromite }, { kind: 'dunite', pts: neyrizMgDunite }, { kind: 'harz', pts: neyrizMgHarz }],
    sz: { c: 6, s: 7, t: 12 }, label: '(i)', labelAt: [833, 710], site: 'Neyriz', siteAt: [1025, 703.3], titleY: 1013, hideY100: true,
  },
  {
    cv: { l: 762, t: 980, w: 274, h: 388 }, area: { l: 812, t: 1032, r: 1032, b: 1323 },
    series: [{ kind: 'lherz', pts: esfMgLherz }, { kind: 'harz', pts: esfMgHarz }, { kind: 'chromite', pts: esfMgChromite }, { kind: 'dunite', pts: esfMgDunite }, { kind: 'open', pts: esfMgOpen }],
    sz: { c: 6, s: 5.5, t: 9 }, label: '(l)', labelAt: [835, 1063.3], site: 'Esfandagheh', siteAt: [1027.3, 1042.7], titleY: 1353,
    texts: [{ s: '70', at: [96.2, 28.6], size: 10, color: '#444' }],
  },
  {
    cv: { l: 762, t: 1318, w: 274, h: 387 }, area: { l: 812, t: 1368, r: 1032, b: 1660 },
    series: [{ kind: 'lherz', pts: fannujMgLherz }, { kind: 'chromite', pts: fannujMgChromite }, { kind: 'harz', pts: fannujMgHarz }],
    sz: { c: 6, s: 6, t: 10 }, label: '(o)', labelAt: [841.7, 1393.3], site: 'Fannuj', siteAt: [1024, 1379], titleY: 1692, hideY100: true, greenClip: true,
    arrow: true,
    texts: [
      { s: '10 %', at: [90.6, 17.9], size: 10, color: '#444' },
      { s: '15 %', at: [84.6, 37.1], size: 10, color: '#444' },
      { s: '35 %', at: [74.3, 65.1], size: 10, color: '#444' },
    ],
    lines: [{ from: [79.3, 36.3], to: [74.8, 36.3] }, { from: [69, 64.9], to: [66.5, 64.9] }],
  },
];

/* ================= React ================= */
function ChartCanvas({ box, make }: { box: Box; make: () => any }) {
  const ref = useRef<HTMLCanvasElement>(null);
  useEffect(() => {
    const chart = new Chart(ref.current as HTMLCanvasElement, make());
    return () => chart.destroy();
  }, []);
  return (
    <canvas
      ref={ref}
      width={box.w}
      height={box.h}
      style={{ position: 'absolute', left: box.l, top: box.t, width: box.w, height: box.h }}
    />
  );
}

export default function App() {
  return (
    <div style={{ position: 'absolute', left: 0, top: 0, width: 1036, height: 1705, background: '#ffffff', overflow: 'hidden' }}>
      {TERN.map((s, i) => (
        <ChartCanvas key={'t' + i} box={s.cv} make={() => ternConfig(s)} />
      ))}
      {TI.map((s, i) => (
        <ChartCanvas key={'ti' + i} box={s.cv} make={() => xyConfig('ti', s)} />
      ))}
      {MG.map((s, i) => (
        <ChartCanvas key={'mg' + i} box={s.cv} make={() => xyConfig('mg', s)} />
      ))}
    </div>
  );
}
